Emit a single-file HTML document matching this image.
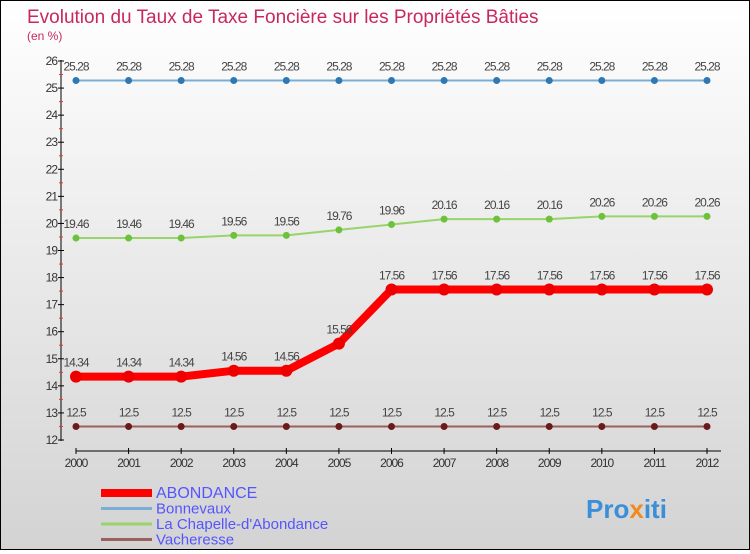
<!DOCTYPE html>
<html><head><meta charset="utf-8"><style>
body{margin:0}
#c{width:748px;height:548px;border:1px solid #000;background:linear-gradient(#fff,#d3d3d3);position:relative;font-family:"Liberation Sans",sans-serif}
</style></head><body>
<div id="c">
<svg id="s" width="748" height="548" xmlns="http://www.w3.org/2000/svg">
<text x="26" y="22" font-size="19" fill="#c8285a">Evolution du Taux de Taxe Foncière sur les Propriétés Bâties</text>
<text x="26" y="39" font-size="12" fill="#c8285a">(en %)</text>
<g id="g"></g>
<text x="585" y="517" font-size="26" font-weight="bold" fill="#3a8fd8">Pro<tspan fill="#f08a20">x</tspan>iti</text>
</svg></div>
<script>
const years=[2000,2001,2002,2003,2004,2005,2006,2007,2008,2009,2010,2011,2012];
const seriesNames=["ABONDANCE","Bonnevaux","La Chapelle-d'Abondance","Vacheresse"];
const abondance=[14.34,14.34,14.34,14.56,14.56,15.56,17.56,17.56,17.56,17.56,17.56,17.56,17.56];
const bonnevaux=[25.28,25.28,25.28,25.28,25.28,25.28,25.28,25.28,25.28,25.28,25.28,25.28,25.28];
const chapelle=[19.46,19.46,19.46,19.56,19.56,19.76,19.96,20.16,20.16,20.16,20.26,20.26,20.26];
const vacheresse=[12.5,12.5,12.5,12.5,12.5,12.5,12.5,12.5,12.5,12.5,12.5,12.5,12.5];
const yTicks=[12,13,14,15,16,17,18,19,20,21,22,23,24,25,26];
const NS="http://www.w3.org/2000/svg",g=document.getElementById('g');
const X=i=>75+i*(706-75)/(years.length-1);
const Y=v=>439-(v-12)*(439-60)/14;
function el(t,a,p){const e=document.createElementNS(NS,t);for(const k in a)e.setAttribute(k,a[k]);(p||g).appendChild(e);return e;}
let ax=el('line',{x1:60,y1:59,x2:60,y2:440,stroke:'#000'});


yTicks.forEach(v=>{el('line',{x1:57,x2:63,y1:Y(v),y2:Y(v),stroke:'#000'});
if(v<26)el('line',{x1:58,x2:62,y1:Y(v+0.5),y2:Y(v+0.5),stroke:'#e33'});
const t=el('text',{x:56,y:Y(v)+4,'font-size':12,fill:'#333','text-anchor':'end','letter-spacing':'-1'});t.textContent=v;

});
let xa=el('line',{x1:75,x2:720,y1:450,y2:450,stroke:'#000'});


years.forEach((y,i)=>{el('line',{x1:X(i),x2:X(i),y1:447,y2:453,stroke:'#000'});
const t=el('text',{x:X(i),y:466,'font-size':12,fill:'#333','text-anchor':'middle','letter-spacing':'-1'});t.textContent=y;

});
function series(d,color,lw,r,dot,name){
const p=el('polyline',{points:d.map((v,i)=>X(i)+','+Y(v)).join(' '),fill:'none',stroke:color,'stroke-width':lw,'stroke-linejoin':'round'});


d.forEach((v,i)=>{const c=el('circle',{cx:X(i),cy:Y(v),r:r,fill:dot});


const t=el('text',{x:X(i),y:Y(v)-10,'font-size':12,fill:'#444','text-anchor':'middle','letter-spacing':'-1'});t.textContent=v;

});}
series(bonnevaux,'#7aaed6',2,3.5,'#2f78b4','bonnevaux');
series(chapelle,'#99d46a',2,3.5,'#6cc23a','chapelle');
series(vacheresse,'#9a6060',2,3.5,'#6a1a1a','vacheresse');
series(abondance,'#f00',8,6,'#e00','abondance');
const lc=['#f00','#7aaed6','#99d46a','#9a6060'],lw=[8,3,3,3];
seriesNames.forEach((n,i)=>{const y=492+i*15.5;
const l=el('line',{x1:100,x2:151,y1:y,y2:y,stroke:lc[i],'stroke-width':lw[i]});


const t=el('text',{x:155,y:y+5,'font-size':i==0?16:15,fill:'#5555ff'});t.textContent=n;

});
</script>
</body></html>
